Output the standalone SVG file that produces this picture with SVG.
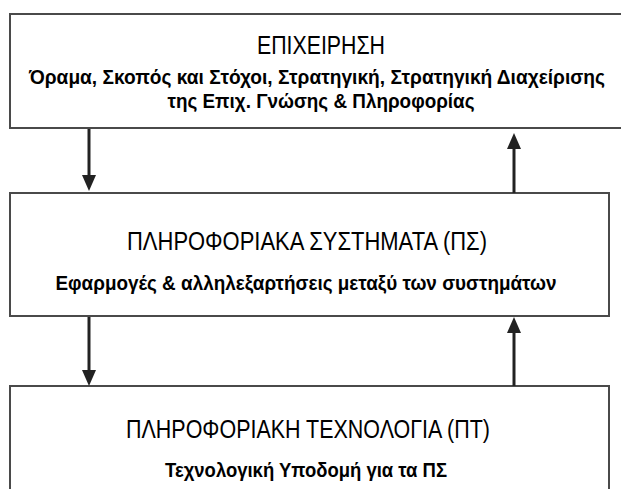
<svg xmlns="http://www.w3.org/2000/svg" width="621" height="489" viewBox="0 0 621 489">
<style>
.box{fill:#fff;stroke:#4a4a4a;stroke-width:2}
.hd{font-family:"Liberation Sans",Arial,sans-serif;font-size:25px;fill:#000;text-anchor:middle}
.sb{font-family:"Liberation Sans",Arial,sans-serif;font-size:20px;font-weight:bold;fill:#000;text-anchor:middle}
.con{stroke:#222;stroke-width:3;fill:none;marker-end:url(#ah)}
</style>
<defs>
<marker id="ah" markerUnits="userSpaceOnUse" markerWidth="16" markerHeight="16" viewBox="0 0 16 14" refX="11" refY="7" orient="auto">
<path d="M0,0 L16,7 L0,14 z" fill="#222"/>
</marker>
</defs>
<rect width="621" height="489" fill="#fff"/>
<g id="node-business">
<rect class="box" x="10" y="14" width="612" height="114"/>
<text class="hd" x="321" y="54" textLength="128" lengthAdjust="spacingAndGlyphs">ΕΠΙΧΕΙΡΗΣΗ</text>
<text class="sb" x="317" y="84" font-size="17.5" textLength="576" lengthAdjust="spacingAndGlyphs">Όραμα, Σκοπός και Στόχοι, Στρατηγική, Στρατηγική Διαχείρισης</text>
<text class="sb" x="321" y="108" textLength="307" lengthAdjust="spacingAndGlyphs">της Επιχ. Γνώσης &amp; Πληροφορίας</text>
</g>
<g id="node-is">
<rect class="box" x="10" y="193" width="599" height="123"/>
<text class="hd" x="307" y="250" textLength="360" lengthAdjust="spacingAndGlyphs">ΠΛΗΡΟΦΟΡΙΑΚΑ ΣΥΣΤΗΜΑΤΑ (ΠΣ)</text>
<text class="sb" x="306" y="290" textLength="501" lengthAdjust="spacingAndGlyphs">Εφαρμογές &amp; αλληλεξαρτήσεις μεταξύ των συστημάτων</text>
</g>
<g id="node-it">
<rect class="box" x="10" y="386" width="599" height="130"/>
<text class="hd" x="308" y="438" textLength="364" lengthAdjust="spacingAndGlyphs">ΠΛΗΡΟΦΟΡΙΑΚΗ ΤΕΧΝΟΛΟΓΙΑ (ΠΤ)</text>
<text class="sb" x="306" y="477" textLength="282" lengthAdjust="spacingAndGlyphs">Τεχνολογική Υποδομή για τα ΠΣ</text>
</g>
<g id="connectors">
<line class="con" x1="89" y1="129" x2="89" y2="186"/>
<line class="con" x1="514" y1="193" x2="514" y2="138"/>
<line class="con" x1="89" y1="317" x2="89" y2="381"/>
<line class="con" x1="514" y1="386" x2="514" y2="322"/>
</g>
</svg>
